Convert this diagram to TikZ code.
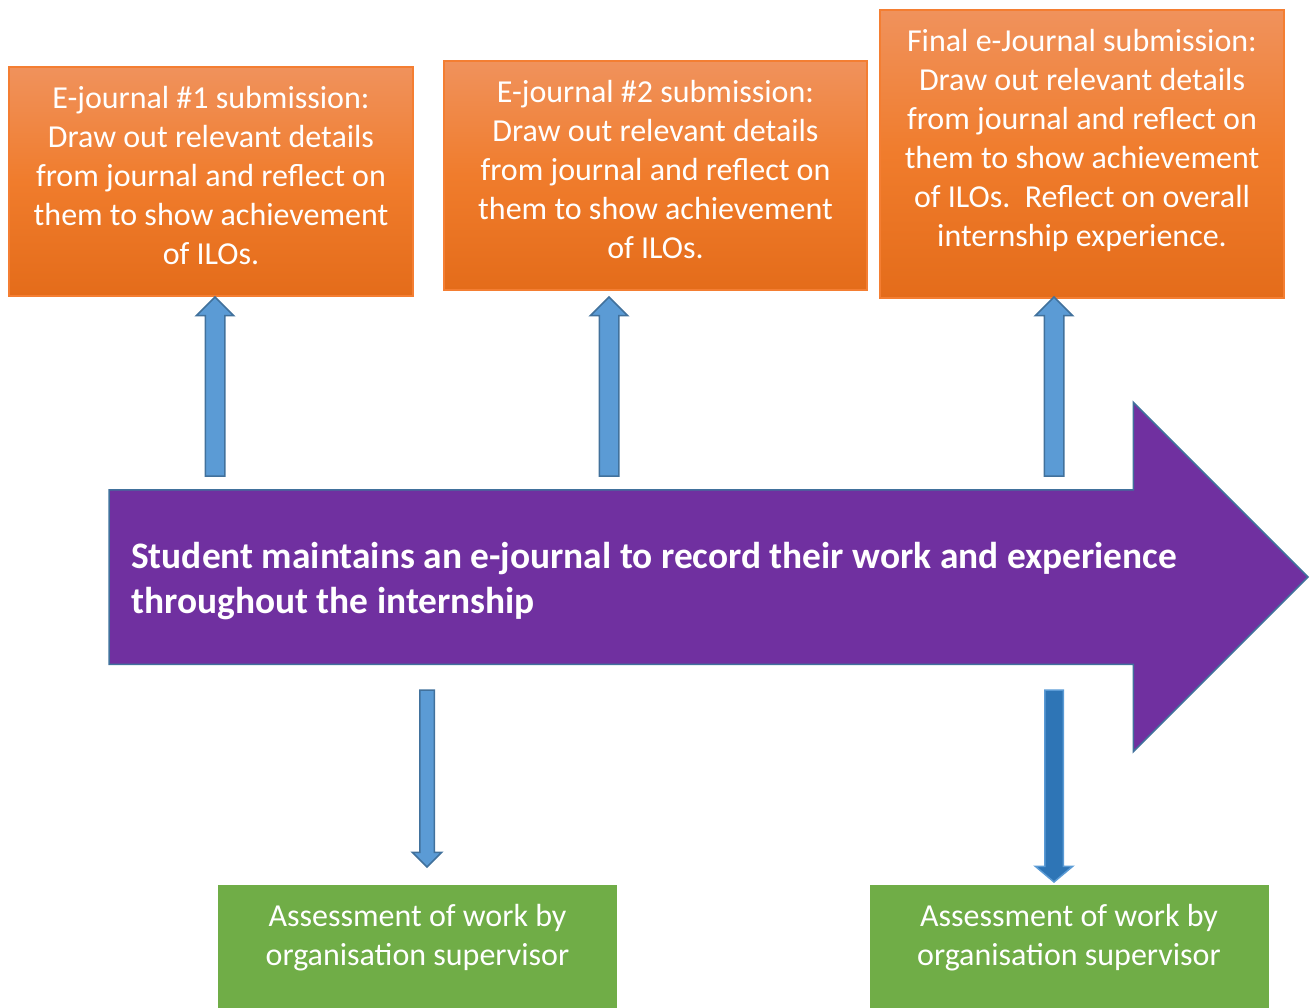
\documentclass[tikz,border=0pt]{standalone}
\usepackage{fontspec}
\setmainfont{Carlito}
\usetikzlibrary{shapes.arrows}

\definecolor{orangetop}{HTML}{F0925C}
\definecolor{orangemid}{HTML}{F07C2C}
\definecolor{orangebot}{HTML}{E46C1A}
\definecolor{orangeline}{HTML}{F47E32}
\definecolor{leafgreen}{HTML}{70AD47}
\definecolor{journalpurple}{HTML}{7030A0}
\definecolor{steelblue}{HTML}{41719C}
\definecolor{skyblue}{HTML}{5B9BD5}
\definecolor{deepblue}{HTML}{2E75B6}

\begin{document}
\begin{tikzpicture}[x=1pt, y=-1pt,
    subbox/.style={rectangle, draw=orangeline, line width=1.2pt,
      top color=orangetop, bottom color=orangebot, middle color=orangemid,
      minimum width=404pt, inner sep=0pt, outer sep=0pt},
    gradebox/.style={rectangle, fill=leafgreen, minimum width=399pt,
      minimum height=123pt, inner sep=0pt, outer sep=0pt},
    boxtext/.style={text=white, align=center, anchor=north, inner sep=0pt,
      font=\fontsize{32}{39}\selectfont},
    blockarrow/.style={single arrow, draw=steelblue, fill=skyblue,
      line width=1.5pt, anchor=tail, outer sep=0pt}]

  \useasboundingbox (0,0) rectangle (1310,1008);

  % e-journal band
  \node[single arrow, draw=steelblue, fill=journalpurple, line width=1.5pt,
    minimum height=1199pt, minimum width=348pt, inner sep=86.5pt,
    single arrow head extend=87.5pt, anchor=tail, outer sep=0pt]
    (band) at (109,577) {};
  \node[text=white, align=left, anchor=west, inner sep=0pt,
    font=\bfseries\fontsize{37.4}{45}\selectfont] (bandtext) at (131,581)
    {Student maintains an e-journal to record their work and experience\\
     throughout the internship};

  % submissions
  \node[subbox, minimum height=229pt] (sub1) at (211,181.5) {};
  \node[subbox, minimum height=229pt, minimum width=423pt] (sub2) at (655.5,175.5) {};
  \node[subbox, minimum height=288pt] (sub3) at (1082,154) {};

  \node[boxtext] (sub1text) at ([yshift=-19.5pt]sub1.north)
    {E-journal \#1 submission:\\ Draw out relevant details\\
     from journal and reflect on\\ them to show achievement\\ of ILOs.};
  \node[boxtext] (sub2text) at ([yshift=-19.5pt]sub2.north)
    {E-journal \#2 submission:\\ Draw out relevant details\\
     from journal and reflect on\\ them to show achievement\\ of ILOs.};
  \node[boxtext] (sub3text) at ([yshift=-19.5pt]sub3.north)
    {Final e-Journal submission:\\ Draw out relevant details\\
     from journal and reflect on\\ them to show achievement\\
     of ILOs.\ \ Reflect on overall\\ internship experience.};

  % assessments
  \node[gradebox] (grade1) at (417.5,946.5) {};
  \node[gradebox] (grade2) at (1069,946.5) {};
  \node[boxtext] (grade1text) at ([yshift=-19.5pt]grade1.north)
    {Assessment of work by\\ organisation supervisor};
  \node[boxtext] (grade2text) at ([yshift=-19.5pt]grade2.north)
    {Assessment of work by\\ organisation supervisor};

  % block arrows
  \node[blockarrow, shape border rotate=90, minimum height=179pt,
    minimum width=36pt, inner sep=9pt, single arrow head extend=9pt]
    (up1) at (215,476) {};
  \node[blockarrow, shape border rotate=90, minimum height=179pt,
    minimum width=36pt, inner sep=9pt, single arrow head extend=9pt]
    (up2) at (609,476) {};
  \node[blockarrow, shape border rotate=90, minimum height=179pt,
    minimum width=36pt, inner sep=9pt, single arrow head extend=9pt]
    (up3) at (1054,476) {};
  \node[blockarrow, shape border rotate=270, minimum height=177pt,
    minimum width=28pt, inner sep=6.5pt, single arrow head extend=7.5pt]
    (down1) at (427,690) {};
  \node[blockarrow, shape border rotate=270, draw=skyblue, fill=deepblue,
    minimum height=192pt, minimum width=36pt, inner sep=8.5pt,
    single arrow head extend=9.5pt, single arrow tip angle=100]
    (down2) at (1054,690) {};
\end{tikzpicture}
\end{document}
